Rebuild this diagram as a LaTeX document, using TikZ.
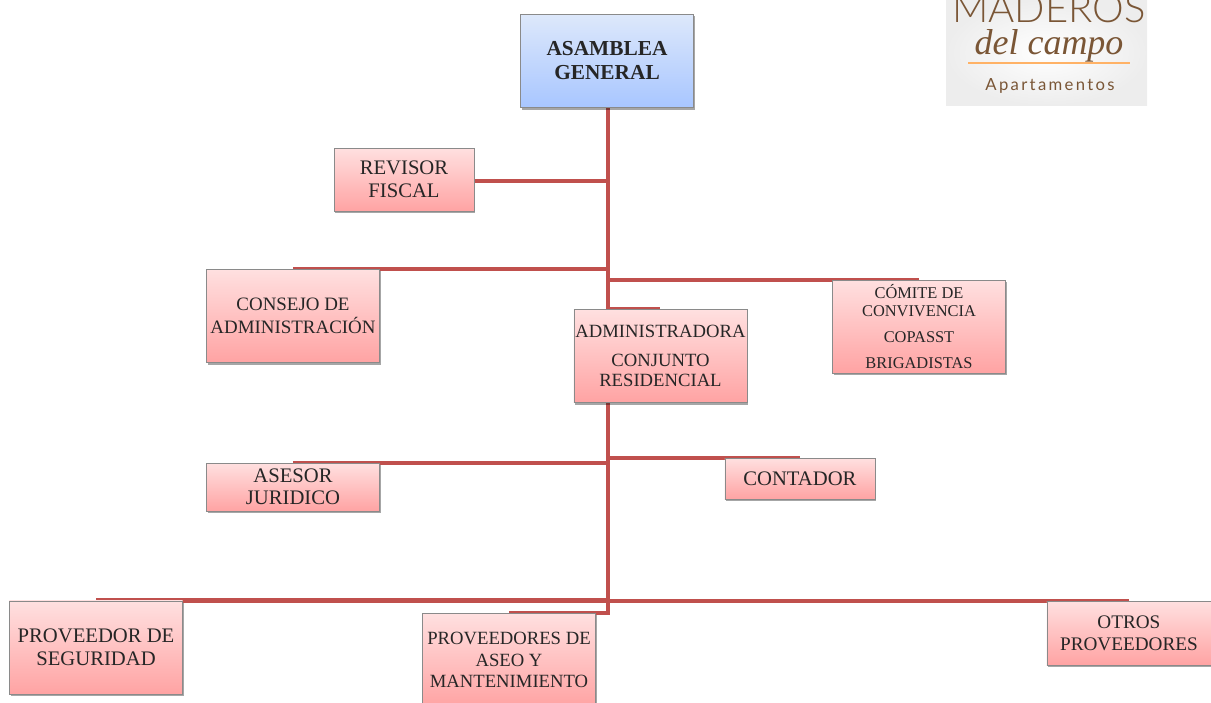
\documentclass[tikz,border=0pt]{standalone}
\usepackage{fontspec}
\setmainfont{Liberation Serif}
\newfontfamily\logomarca{Lato Light}
\newfontfamily\logoletra[LetterSpace=14]{Lato}
\usetikzlibrary{positioning, shadows, backgrounds}
\definecolor{linea}{HTML}{C0504D}
\definecolor{borde}{HTML}{8A8A8A}
\definecolor{cafe}{HTML}{7A5636}
\definecolor{rosaa}{HTML}{FFE0E0}
\definecolor{rosab}{HTML}{FFA3A3}
\definecolor{azula}{HTML}{DDE8FB}
\definecolor{azulb}{HTML}{A8C6FF}
\newcommand{\tam}[2]{\fontsize{#1}{#2}\selectfont}

\tikzset{
  caja/.style={draw=borde, inner sep=0pt, align=center, text=black!85, minimum width=130pt, minimum height=70pt,
    drop shadow={shadow xshift=1pt, shadow yshift=-1.5pt, opacity=.35, fill=black}},
  cargo/.style={caja, top color=rosaa, bottom color=rosab},
  jefe/.style={caja, top color=azula, bottom color=azulb},
  conector/.style={draw=linea, line width=3.3pt}
}

\begin{document}
\begin{tikzpicture}[x=0.75pt, y=-0.75pt, on grid]
  \useasboundingbox (0,0) rectangle (1211,703);

  \node[jefe, font=\bfseries\tam{16}{18}] (asamblea) at (607,61) {ASAMBLEA\\GENERAL};
  \node[cargo, minimum width=105pt, minimum height=47.25pt, font=\tam{15.5}{17}] (revisor) [below left=88.9pt and 152.25pt of asamblea] {REVISOR\\FISCAL};
  \node[cargo, font=\tam{14.2}{17}] (consejo) [below left=191.25pt and 235.5pt of asamblea] {CONSEJO DE\\ADMINISTRACI\'ON};
  \node[cargo, font=\tam{14}{15}] (admin) [below right=221.25pt and 40.1pt of asamblea] {ADMINISTRADORA\\[7pt]CONJUNTO\\RESIDENCIAL};
  \node[cargo, minimum height=69.75pt, font=\tam{12.3}{14}] (comite) [above right=22.1pt and 193.9pt of admin] {C\'OMITE DE\\CONVIVENCIA\\[5.5pt]COPASST\\[5.5pt]BRIGADISTAS};
  \node[cargo, minimum height=36pt, font=\tam{15.5}{16.5}] (asesor) [below=128.25pt of consejo] {ASESOR\\JURIDICO};
  \node[cargo, minimum width=112.5pt, minimum height=30.75pt, font=\tam{15.5}{17}] (contador) [below right=91.9pt and 104.6pt of admin] {CONTADOR};
  \node[cargo, font=\tam{15.5}{17}] (seguridad) [below left=120.4pt and 147.75pt of asesor] {PROVEEDOR DE\\SEGURIDAD};
  \node[cargo, font=\tam{14}{16}] (aseo) [below right=129.75pt and 162pt of asesor] {PROVEEDORES DE\\ASEO Y\\MANTENIMIENTO};
  \node[cargo, minimum width=123pt, minimum height=48pt, font=\tam{14.4}{16.5}] (otros) [below right=115.9pt and 246.75pt of contador] {OTROS\\PROVEEDORES};
  \coordinate (troncal) at ([xshift=.75pt]asamblea.south);

  \begin{scope}[on background layer]
    \draw[conector] (troncal) |- ([yshift=-1pt]revisor.east);
    \draw[conector] (troncal) |- (consejo.north);
    \draw[conector] (troncal) |- (admin.north);
    \draw[conector] (troncal) |- (comite.north);
    \draw[conector] (troncal) |- (asesor.north);
    \draw[conector] (troncal) |- (contador.north);
    \draw[conector] (troncal) |- (seguridad.north);
    \draw[conector] (troncal) |- (otros.north);
    \draw[conector] (troncal) |- (aseo.north);
  \end{scope}

  \shade[inner color=white, outer color=black!7] (946,0) rectangle (1147,105);
  \node[text=cafe, font=\logomarca\tam{30}{31}] (maderos) at (1049,8) {MADEROS};
  \node[text=cafe, font=\itshape\tam{27}{28}] (campo) at (1049,46) {del campo};
  \node[text=cafe, font=\logoletra\tam{12.5}{13}] (apto) at (1050,86) {Apartamentos};
  \draw[orange!60, line width=1.5pt] (968,63) -- (1130,63);
\end{tikzpicture}
\end{document}
